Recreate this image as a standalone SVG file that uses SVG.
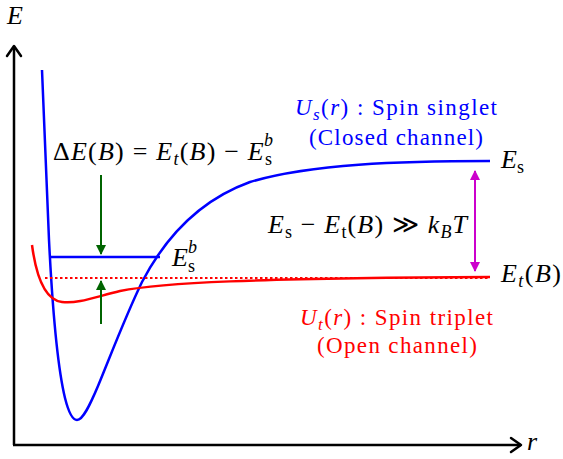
<svg xmlns="http://www.w3.org/2000/svg" width="563" height="459" viewBox="0 0 563 459">
<style>
.ax{stroke:#000;stroke-width:2.5;fill:none}
.axh{stroke:#000;stroke-width:2.5;fill:none;stroke-linecap:round;stroke-linejoin:round}
.math{fill:#000}
.it{font-style:italic}
.lbl{font-size:23px}
</style>
<defs>
<marker id="ga" markerWidth="10" markerHeight="12" refX="9" refY="5" orient="auto" markerUnits="userSpaceOnUse">
<path d="M0,0 L10,5 L0,10 Z" fill="#006400"/>
</marker>
<marker id="ma" markerWidth="10" markerHeight="12" refX="9" refY="5" orient="auto-start-reverse" markerUnits="userSpaceOnUse">
<path d="M0,0 L10,5 L0,10 Z" fill="#cc00cc"/>
</marker>
</defs>
<g font-family="Liberation Serif, Times New Roman, serif">
<g id="axes">
<line class="ax" x1="14" y1="445" x2="14" y2="47"/>
<path class="axh" d="M7,56 L14,46 L21,56"/>
<line class="ax" x1="13" y1="445" x2="521" y2="445"/>
<path class="axh" d="M511,438 L521,445 L511,452"/>
<text class="math it" x="7" y="24" font-size="26">E</text>
<text class="math it" x="527" y="450" font-size="26">r</text>
</g>
<g id="singlet-curve">
<path d="M42,70 L49,240 C52,300 57,365 65,398 C69,414 73,420 77,420 C83,420 90,405 98,386 C112,352 126,315 142,282 C165,238 200,200 250,182 C310,164 400,161 490,161" fill="none" stroke="#0000ff" stroke-width="2.5"/>
</g>
<g id="triplet-curve">
<path d="M32,245 C36,275 45,300 62,302 C78,304 95,297 120,291 C160,283 250,278 490,277" fill="none" stroke="#ff0000" stroke-width="2.5"/>
<line x1="45" y1="278" x2="490" y2="278" stroke="#ff0000" stroke-width="2" stroke-dasharray="2.5,2.5"/>
</g>
<g id="bound-state">
<line x1="51" y1="257" x2="160" y2="257" stroke="#0000ff" stroke-width="2.5"/>
<text class="math" x="172" y="266" font-size="26"><tspan class="it">E</tspan><tspan font-size="18" dy="6">s</tspan></text>
<text class="math it" x="188" y="253" font-size="18">b</text>
</g>
<g id="connectors">
<line x1="101" y1="175" x2="101" y2="254" stroke="#006400" stroke-width="2" marker-end="url(#ga)"/>
<line x1="101" y1="324" x2="101" y2="281" stroke="#006400" stroke-width="2" marker-end="url(#ga)"/>
<line x1="475" y1="171" x2="475" y2="271" stroke="#cc00cc" stroke-width="2" marker-start="url(#ma)" marker-end="url(#ma)"/>
</g>
<g id="delta-label">
<text class="math" x="53" y="160" font-size="26" textLength="219" lengthAdjust="spacing">Δ<tspan class="it">E</tspan>(<tspan class="it">B</tspan>) = <tspan class="it">E</tspan><tspan class="it" font-size="18" dy="5">t</tspan><tspan dy="-5">(</tspan><tspan class="it">B</tspan>) − <tspan class="it">E</tspan><tspan font-size="18" dy="5">s</tspan></text>
<text class="math it" x="264" y="146" font-size="18">b</text>
</g>
<g id="singlet-label">
<text class="lbl" x="295" y="115" fill="#0000ff" textLength="202" lengthAdjust="spacing"><tspan class="it">U</tspan><tspan class="it" font-size="17" dy="5">s</tspan><tspan dy="-5">(</tspan><tspan class="it">r</tspan>) : Spin singlet</text>
<text class="lbl" x="309" y="145" fill="#0000ff" textLength="174" lengthAdjust="spacing">(Closed channel)</text>
</g>
<g id="es-label">
<text class="math" x="501" y="168" font-size="26"><tspan class="it">E</tspan><tspan font-size="18" dy="5">s</tspan></text>
</g>
<g id="gap-label">
<text class="math" x="268" y="233" font-size="26" textLength="199" lengthAdjust="spacing"><tspan class="it">E</tspan><tspan font-size="18" dy="5">s</tspan><tspan dy="-5"> − </tspan><tspan class="it">E</tspan><tspan font-size="18" dy="5">t</tspan><tspan dy="-5">(</tspan><tspan class="it">B</tspan>) ≫ <tspan class="it">k</tspan><tspan class="it" font-size="18" dy="5">B</tspan><tspan class="it" dy="-5">T</tspan></text>
</g>
<g id="et-label">
<text class="math" x="501" y="282" font-size="26" textLength="60" lengthAdjust="spacing"><tspan class="it">E</tspan><tspan class="it" font-size="18" dy="5">t</tspan><tspan dy="-5">(</tspan><tspan class="it">B</tspan>)</text>
</g>
<g id="triplet-label">
<text class="lbl" x="300" y="325" fill="#ff0000" textLength="193" lengthAdjust="spacing"><tspan class="it">U</tspan><tspan class="it" font-size="17" dy="5">t</tspan><tspan dy="-5">(</tspan><tspan class="it">r</tspan>) : Spin triplet</text>
<text class="lbl" x="317" y="353" fill="#ff0000" textLength="160" lengthAdjust="spacing">(Open channel)</text>
</g>
</g>
</svg>
